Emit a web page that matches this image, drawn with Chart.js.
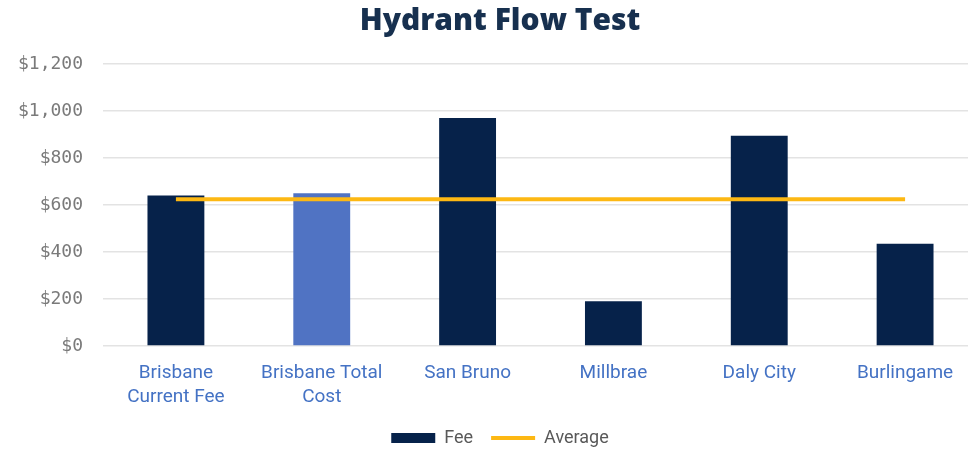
<!DOCTYPE html>
<html>
<head>
<meta charset="utf-8">
<script src="https://cdn.jsdelivr.net/npm/chart.js@4.4.0/dist/chart.umd.min.js"></script>
<style>
  html, body { margin: 0; padding: 0; background: #fff; overflow: hidden; }
  #wrap { width: 1000px; height: 450px; }
</style>
</head>
<body>
<div id="wrap"><canvas id="feeChart" width="1000" height="450"></canvas></div>
<script>
const categories = [['Brisbane', 'Current Fee'], ['Brisbane Total', 'Cost'], 'San Bruno', 'Millbrae', 'Daly City', 'Burlingame'];
const feeValues = [640, 650, 970, 190, 895, 435];
const averageValues = [625, 625, 625, 625, 625, 625];
const yTicks = [0, 200, 400, 600, 800, 1000, 1200];

const navy = '#06224A';
const lightBlue = '#5073C3';
const gold = '#FDB813';

const ctx = document.getElementById('feeChart').getContext('2d');
new Chart(ctx, {
  data: {
    labels: categories,
    datasets: [{
      type: 'bar',
      label: 'Fee',
      data: feeValues,
      backgroundColor: feeValues.map((v, i) => i === 1 ? lightBlue : navy),
      borderWidth: 0,
      barPercentage: 0.39,
      categoryPercentage: 1,
      pointStyle: 'rect',
      order: 1
    }, {
      type: 'line',
      label: 'Average',
      data: averageValues,
      borderColor: gold,
      backgroundColor: gold,
      borderWidth: 4,
      pointRadius: 0,
      pointStyle: 'line',
      order: 0
    }]
  },
  options: {
    responsive: false,
    animation: false,
    layout: { padding: { left: 0, right: 0, top: 0, bottom: -7 } },
    plugins: {
      title: {
        display: true,
        text: 'Hydrant Flow Test',
        color: '#17304F',
        font: { family: 'Open Sans', size: 30, weight: '800' },
        padding: { top: 3, bottom: 25 }
      },
      legend: {
        position: 'bottom',
        labels: {
          usePointStyle: true,
          pointStyleWidth: 44,
          boxHeight: 10,
          color: '#595959',
          font: { family: 'Roboto', size: 18 },
          padding: 18,
          sort: (a, b) => a.datasetIndex - b.datasetIndex
        }
      },
      tooltip: { enabled: false }
    },
    scales: {
      x: {
        grid: { display: false },
        border: { display: false },
        afterFit: (scale) => { scale.height = 65; },
        ticks: {
          color: '#4472C4',
          font: { family: 'Roboto', size: 19, lineHeight: 1.22 },
          padding: 8,
          maxRotation: 0,
          autoSkip: false
        }
      },
      y: {
        min: 0,
        max: 1200,
        afterBuildTicks: (scale) => { scale.ticks = yTicks.map(v => ({ value: v })); },
        afterFit: (scale) => { scale.width = 103; },
        grid: { color: '#E3E3E3', lineWidth: 1.5, drawTicks: false },
        border: { display: false },
        ticks: {
          color: '#7A7A7A',
          font: { family: 'DejaVu Sans Mono', size: 18 },
          padding: 20,
          callback: (v) => '$' + v.toLocaleString('en-US')
        }
      },
      // empty right-hand gutter so the plot stops short of the canvas edge
      gutter: {
        type: 'linear',
        position: 'right',
        afterFit: (scale) => { scale.width = 22; },
        grid: { display: false },
        border: { display: false },
        ticks: { display: false }
      }
    }
  }
});
</script>
</body>
</html>
